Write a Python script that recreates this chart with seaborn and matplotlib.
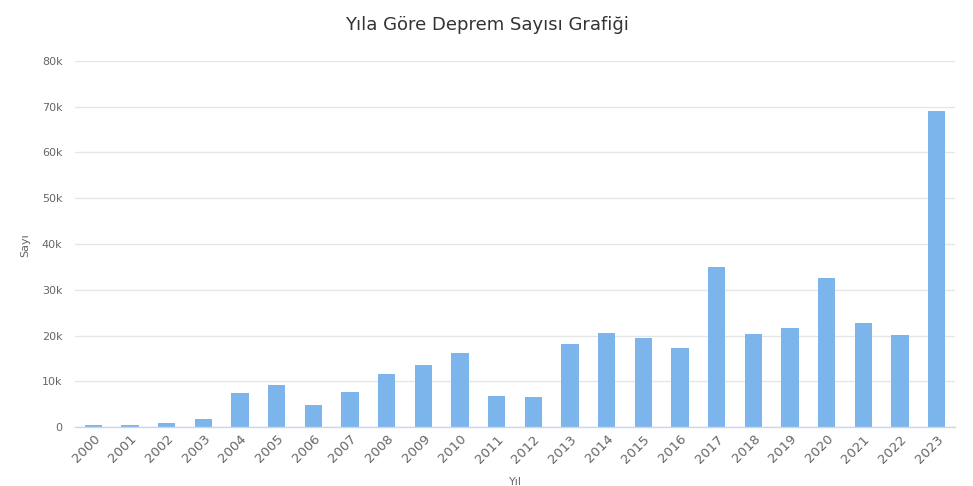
import matplotlib
matplotlib.use("Agg")
import matplotlib.pyplot as plt
import seaborn as sns
import pandas as pd
from matplotlib.ticker import FuncFormatter, MultipleLocator

years = [str(y) for y in range(2000, 2024)]
counts = [450, 480, 950, 1750, 7450, 9250, 4800, 7650, 11600, 13550,
          16200, 6850, 6550, 18100, 20500, 19450, 17300, 35000, 20300, 21600,
          32600, 22700, 20100, 69100]

title = "Yıla Göre Deprem Sayısı Grafiği"
xlabel = "Yıl"
ylabel = "Sayı"

sns.set_theme(style="white")
plt.rcParams['font.family'] = ['DejaVu Sans']

df = pd.DataFrame({"Yıl": years, "Sayı": counts})

fig = plt.figure(figsize=(9.73, 4.86), dpi=100)
ax = fig.add_axes([75/973, (486-427)/486, 880/973, 366/486])

sns.barplot(data=df, x="Yıl", y="Sayı", color="#7cb5ec", saturation=1,
            width=0.47, ax=ax, edgecolor="none")

ax.set_xlim(-0.5, len(years) - 0.5)
ax.set_ylim(0, 80000)
ax.yaxis.set_major_locator(MultipleLocator(10000))
ax.yaxis.set_major_formatter(FuncFormatter(lambda v, p: "0" if v == 0 else f"{int(v/1000)}k"))
ax.grid(axis="y", color="#e6e6e6", linewidth=1)
ax.set_axisbelow(True)
for s in ["top", "right", "left"]:
    ax.spines[s].set_visible(False)
ax.spines["bottom"].set_color("#ccd6eb")
ax.spines["bottom"].set_linewidth(1)

ax.tick_params(axis="y", length=0, labelsize=8, labelcolor="#666666", pad=9)
ax.tick_params(axis="x", length=0, labelsize=9.5, labelcolor="#666666", pad=4)
plt.setp(ax.get_xticklabels(), rotation=45, ha="right", rotation_mode="anchor")

ax.set_xlabel(xlabel, fontsize=8, color="#666666")
ax.xaxis.set_label_coords(0.5, (427-482)/366)
ax.xaxis.label.set_va("center")
ax.set_ylabel(ylabel, fontsize=8, color="#666666")
ax.yaxis.set_label_coords((25-75)/880, (427-245)/366)
ax.yaxis.label.set_va("center")

fig.text(0.5, (486-25)/486, title, ha="center", va="center", fontsize=13, color="#333333")

fig.savefig("out.png", dpi=100, facecolor="white")
